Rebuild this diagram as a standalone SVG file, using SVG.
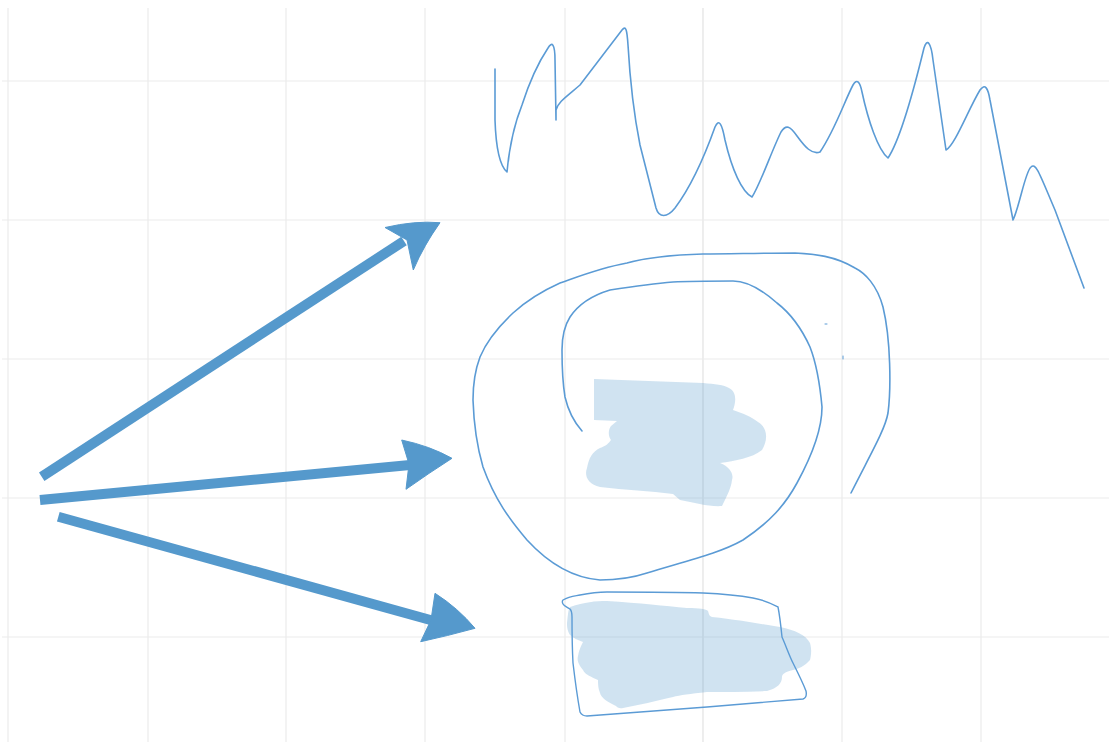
<svg xmlns="http://www.w3.org/2000/svg" width="1109" height="742" viewBox="0 0 1109 742">
<style>
.grid{stroke:#ebebeb;stroke-width:1.2;fill:none}
.ink{stroke:#5b9bd5;stroke-width:1.6;fill:none;stroke-linecap:round;stroke-linejoin:round}
.blob{fill:#5599cc;fill-opacity:0.28;stroke:none}
.shaft{stroke:#5599cc;stroke-width:10;fill:none;stroke-linecap:butt}
.head{fill:#5599cc;stroke:#5599cc;stroke-width:1;stroke-linejoin:round}
</style>
<rect width="1109" height="742" fill="#ffffff"/>
<g id="grid">
<path class="grid" d="M8,8V742M148,8V742M286,8V742M425,8V742M565,8V742M842,8V742M981,8V742"/>
<path class="grid" style="stroke:#e2e2e2" d="M703,8V742"/>
<path class="grid" d="M2,81H1109M2,220H1109M2,359H1109M2,498H1109M2,637H1109"/>
</g>
<g id="zigzag">
<path class="ink" d="M495,69 L495,120 C496,150 500,166 507,172 C509,150 514,125 522,105 C530,80 540,60 548,48 C552,41 555,44 555,60 L556,120 L556,110 C558,102 566,97 580,85 L622,30 C626,25 627,30 628,45 C630,80 633,110 640,145 L656,208 C659,218 667,218 675,208 C690,188 705,155 715,127 C719,118 722,124 725,140 C732,170 742,192 752,197 C760,185 772,150 781,132 C786,124 790,126 797,136 C805,147 812,155 820,152 C835,130 845,100 853,85 C857,78 860,82 862,92 C868,120 878,150 888,158 C900,140 915,85 924,48 C927,38 931,42 933,60 L946,150 C955,145 968,110 980,90 C985,83 988,88 990,100 L1013,220 C1020,205 1025,172 1031,167 C1036,162 1040,175 1055,210 L1084,288"/>
</g>
<g id="spiral">
<path class="ink" d="M851,493 C870,455 885,430 888,413 C891,390 891,340 883,307 C877,285 865,273 855,268 C835,256 815,254 795,253 C760,253 730,254 703,254 C670,255 645,258 627,263 C600,268 580,276 560,283 C540,292 525,302 513,313 C495,330 485,345 480,357 C474,373 473,390 473,400 C474,430 478,450 483,467 C495,500 510,520 527,540 C550,565 575,578 600,580 C620,580 635,577 647,573 C690,560 720,553 743,540 C770,522 785,505 797,483 C815,450 822,425 822,407 C820,385 817,365 810,347 C800,325 790,313 777,303 C760,288 745,281 733,281 C710,281 690,281 673,282 C650,284 630,287 610,290 C590,296 578,305 570,317 C563,328 562,340 562,350 C562,370 563,385 565,397 C568,410 574,422 582,431"/>
<path class="ink" style="stroke-width:1" d="M825,324h2M843,356v3"/>
</g>
<g id="blob1">
<path class="blob" d="M594,379 L703,383 C715,384 724,385 729,388 C737,392 736,402 733,410 C742,413 752,417 758,422 C768,428 768,440 762,450 C752,458 735,461 720,463 C730,467 734,474 732,480 C731,488 728,494 722,506 C710,507 695,503 680,500 L673,494 C650,491 625,490 600,487 C588,484 584,476 587,468 C589,458 592,452 600,448 C606,446 609,443 611,440 C608,436 608,430 611,426 L617,421 L594,420 Z"/>
</g>
<g id="box">
<path class="blob" d="M570,607 C585,602 595,601 607,601 C640,603 665,606 687,608 C700,608 706,609 708,611 C709,614 709,616 712,617 C740,620 760,624 780,627 C795,630 806,635 810,643 C812,650 811,656 810,660 C805,666 798,669 793,670 C785,672 782,674 782,677 C782,683 778,688 767,691 C745,692 725,692 707,692 C690,694 680,695 673,697 C655,701 640,705 623,708 C619,709 617,707 616,706 C608,702 601,698 600,693 C598,688 598,684 598,680 C592,677 585,675 583,670 C578,664 577,660 578,656 C579,650 581,646 583,642 C578,640 573,638 570,635 C567,630 567,626 567,623 C568,615 568,610 570,607 Z"/>
<path class="ink" style="stroke-width:1.4" d="M563,600 C570,596 576,596 580,595 C590,593 598,592 607,592 C640,592 675,592 703,593 C725,594 742,596 753,598 C765,600 772,604 778,607 C780,617 781,627 782,637 C786,646 789,655 793,663 C798,673 803,683 806,691 C807,696 806,698 803,699 C770,702 740,704 707,707 C665,710 625,713 587,716 C583,716 581,714 580,712 C577,695 575,680 573,663 C572,645 572,630 572,617 C572,613 571,610 570,609 C567,607 564,606 563,604 C562,602 562,601 563,600 Z"/>
</g>
<g id="connectors">
<path class="shaft" d="M41.7,476.7 L404,241"/>
<path class="head" d="M385,227.5 Q415,220.5 440,222.7 Q424,245 413.3,270 L407,240 Z"/>
<path class="shaft" d="M40,500 L410,465"/>
<path class="head" d="M401.7,440 Q430,446 452,458.3 Q429,473 406,489.3 L409,464 Z"/>
<path class="shaft" d="M58.3,516.7 L434,621"/>
<path class="head" d="M435,593.3 Q458,608 475,628.3 Q447,636 420.7,641.7 L431,620 Z"/>
</g>
</svg>
